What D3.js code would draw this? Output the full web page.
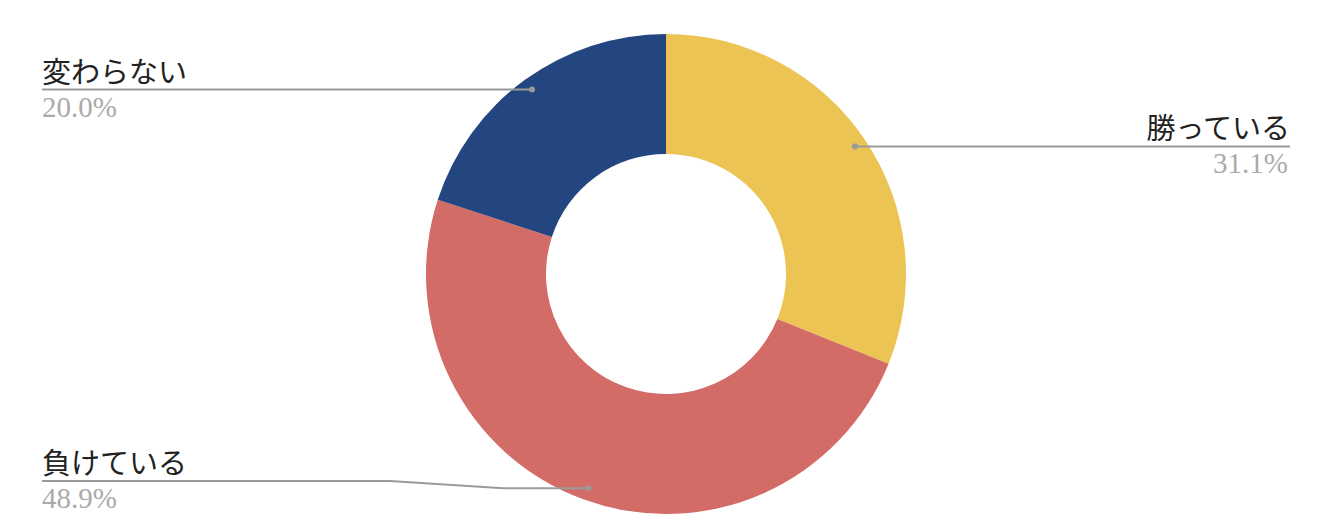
<!DOCTYPE html>
<html>
<head>
  <meta charset="utf-8">
  <script src="https://d3js.org/d3.v7.min.js"></script>
  <style>
    body { margin: 0; background: #fff; }
  </style>
</head>
<body>
<div id="chart"></div>
<script>
  // data
  var labels = ["勝っている", "負けている", "変わらない"];
  var values = [31.1, 48.9, 20.0];
  var colors = ["#ebc454", "#d36b67", "#244680"];

  var W = 1334, H = 532;
  var cx = 666, cy = 274, rOuter = 240, rInner = 120;

  var svg = d3.select("#chart").append("svg")
      .attr("width", W)
      .attr("height", H);

  var pie = d3.pie().sort(null).value(function(d) { return d; });
  var arcs = pie(values);

  var arc = d3.arc().innerRadius(rInner).outerRadius(rOuter);
  var dotArc = d3.arc().innerRadius(228).outerRadius(228);

  var g = svg.append("g").attr("transform", "translate(" + cx + "," + cy + ")");

  g.selectAll("path.slice")
    .data(arcs)
    .enter().append("path")
      .attr("class", "slice")
      .attr("d", arc)
      .attr("fill", function(d, i) { return colors[i]; });

  // leader lines + labels
  var leftX = 42, rightX = 1290, maxLineY = 481;

  arcs.forEach(function(d, i) {
    var c = dotArc.centroid(d);
    var dx = cx + c[0], dy = cy + c[1];
    var right = dx > cx;
    var ly = Math.min(dy, maxLineY);
    var endX = right ? rightX : leftX;

    var pts;
    if (Math.abs(ly - dy) > 0.5) {
      // label pushed up: short flat bit, slant, then flat to label
      pts = [[dx, dy], [dx - 85, dy], [dx - 198, ly], [endX, ly]];
    } else {
      pts = [[dx, dy], [endX, dy]];
    }
    svg.append("path")
      .attr("d", d3.line()(pts))
      .attr("fill", "none")
      .attr("stroke", "#9a9a9a")
      .attr("stroke-width", 2);

    svg.append("circle")
      .attr("cx", dx).attr("cy", dy).attr("r", 3)
      .attr("fill", "#999");

    var lineY = pts[pts.length - 1][1];
    svg.append("text")
      .attr("x", endX)
      .attr("y", lineY - 7)
      .attr("text-anchor", right ? "end" : "start")
      .attr("font-family", "'Noto Sans CJK JP', sans-serif")
      .attr("font-size", 29)
      .attr("fill", "#222")
      .text(labels[i]);

    svg.append("text")
      .attr("x", right ? endX - 2 : endX)
      .attr("y", lineY + 27)
      .attr("text-anchor", right ? "end" : "start")
      .attr("font-family", "'Liberation Serif', serif")
      .attr("font-size", 29)
      .attr("fill", "#aaaaaa")
      .text(values[i].toFixed(1) + "%");
  });
</script>
</body>
</html>
